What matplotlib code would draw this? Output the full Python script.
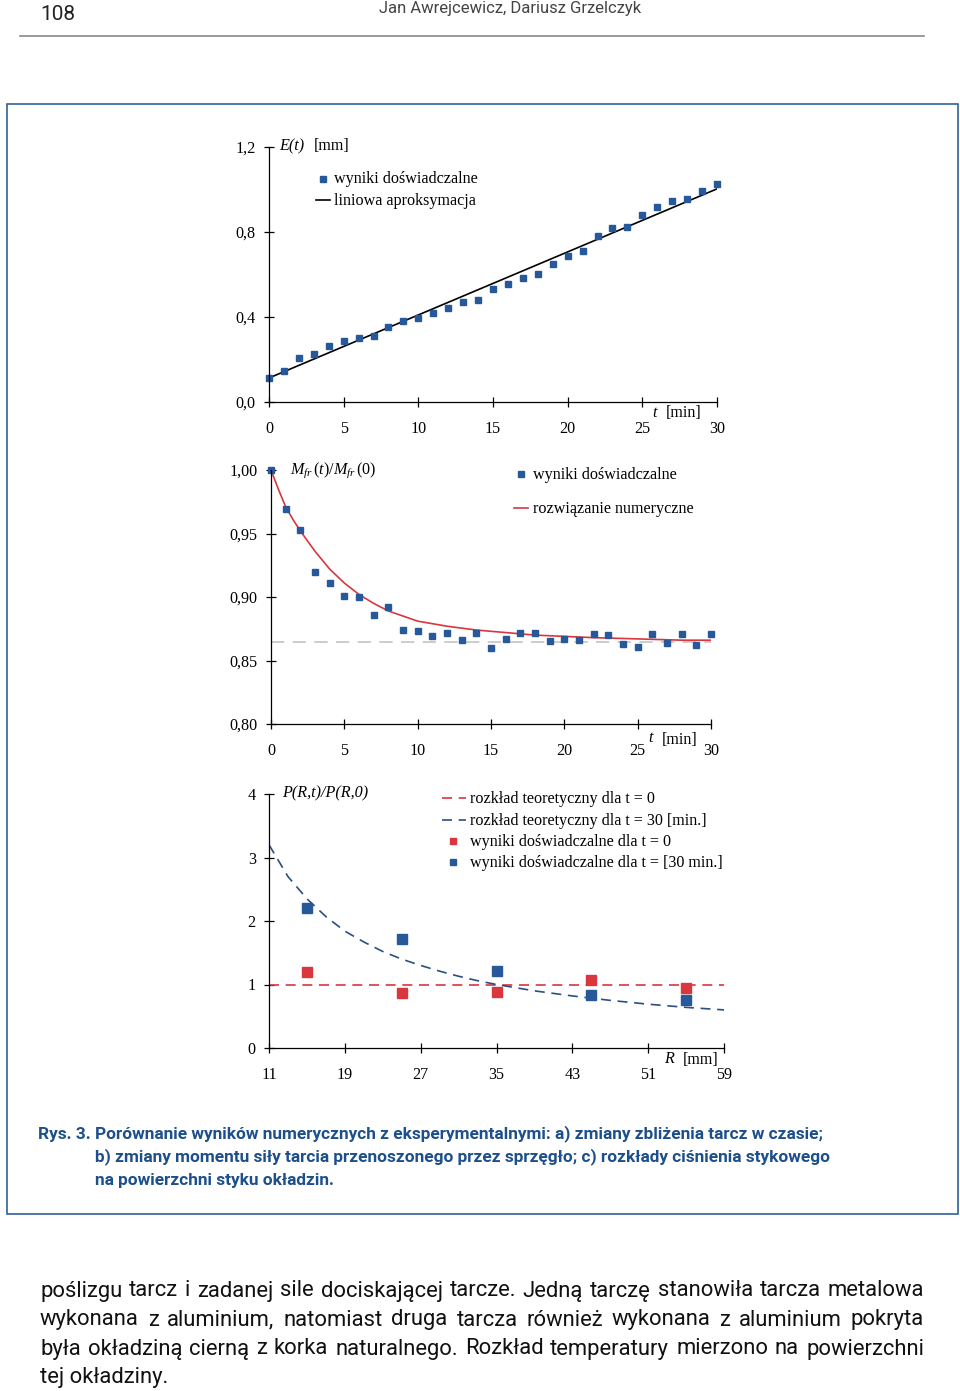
import numpy as np
import matplotlib
matplotlib.use("Agg")
import matplotlib.pyplot as plt
from matplotlib.lines import Line2D
from matplotlib.patches import Rectangle

# ---- data: a) approach of the discs E(t)
t_a = list(range(31))
e_exp = [0.113, 0.146, 0.208, 0.228, 0.263, 0.288, 0.299, 0.310, 0.353, 0.381,
         0.394, 0.417, 0.444, 0.471, 0.480, 0.534, 0.557, 0.583, 0.602, 0.650,
         0.685, 0.712, 0.781, 0.817, 0.825, 0.882, 0.917, 0.945, 0.953, 0.994,
         1.024]
fit_t = [0, 30]
fit_e = [0.113, 1.003]
a_yticks = [0.0, 0.4, 0.8, 1.2]
a_ylabels = ["0,0", "0,4", "0,8", "1,2"]
a_xticks = [0, 5, 10, 15, 20, 25, 30]

# ---- data: b) friction moment ratio
t_b = list(range(31))
m_exp = [1.000, 0.969, 0.953, 0.920, 0.911, 0.901, 0.900, 0.886, 0.892, 0.874,
         0.873, 0.869, 0.872, 0.866, 0.872, 0.860, 0.867, 0.872, 0.872, 0.865,
         0.867, 0.866, 0.871, 0.870, 0.863, 0.861, 0.871, 0.864, 0.871, 0.862,
         0.871]
num_t = [0, 0.5, 1, 1.5, 2, 3, 4, 5, 6, 7, 8, 9, 10, 12, 14, 16, 18, 20, 22, 25, 28, 30]
num_m = [1.000, 0.985, 0.971, 0.961, 0.952, 0.936, 0.922, 0.911, 0.902, 0.895,
         0.889, 0.885, 0.881, 0.877, 0.874, 0.872, 0.870, 0.869, 0.868, 0.867,
         0.866, 0.866]
m_asym = 0.8645
b_yticks = [0.80, 0.85, 0.90, 0.95, 1.00]
b_ylabels = ["0,80", "0,85", "0,90", "0,95", "1,00"]
b_xticks = [0, 5, 10, 15, 20, 25, 30]

# ---- data: c) contact pressure distribution
R_exp = [15, 25, 35, 45, 55]
p0_exp = [1.20, 0.87, 0.88, 1.07, 0.94]
p30_exp = [2.21, 1.71, 1.22, 0.84, 0.75]
R_theo = [11, 13, 15, 17, 19, 21, 23, 25, 27, 29, 31, 33, 35, 39, 43, 47, 51, 55, 59]
p30_theo = [3.20, 2.70, 2.35, 2.07, 1.84, 1.67, 1.52, 1.40, 1.30, 1.21, 1.13, 1.06,
            1.00, 0.90, 0.82, 0.75, 0.69, 0.64, 0.60]
p0_theo = [1.0, 1.0]
R_line = [11, 59]
c_xticks = [11, 19, 27, 35, 43, 51, 59]
c_yticks = [0, 1, 2, 3, 4]

caption = ["Porównanie wyników numerycznych z eksperymentalnymi: a) zmiany zbliżenia tarcz w czasie;",
           "b) zmiany momentu siły tarcia przenoszonego przez sprzęgło; c) rozkłady ciśnienia stykowego",
           "na powierzchni styku okładzin."]
body = ["poślizgu tarcz i zadanej sile dociskającej tarcze. Jedną tarczę stanowiła tarcza metalowa",
        "wykonana z aluminium, natomiast druga tarcza również wykonana z aluminium pokryta",
        "była okładziną cierną z korka naturalnego. Rozkład temperatury mierzono na powierzchni",
        "tej okładziny."]

plt.rcParams['font.family'] = ['Liberation Serif', 'DejaVu Serif']
plt.rcParams['mathtext.fontset'] = 'custom'
plt.rcParams['mathtext.rm'] = 'Liberation Serif'
plt.rcParams['mathtext.it'] = 'Liberation Serif:italic'

W, H = 960, 1391
fig = plt.figure(figsize=(W / 100, H / 100), dpi=100)

BLUE = '#27589a'
RED = '#d9363e'
CAP = '#1d4f8c'
FS = 11.6


def px(x, y):
    return x / W, 1 - y / H


def make_axes(l, r, t, b, xlim, ylim):
    ax = fig.add_axes([l / W, 1 - b / H, (r - l) / W, (b - t) / H])
    ax.set_xlim(xlim)
    ax.set_ylim(ylim)
    ax.patch.set_alpha(0)
    ax.spines['top'].set_visible(False)
    ax.spines['right'].set_visible(False)
    for s in ['left', 'bottom']:
        ax.spines[s].set_linewidth(0.9)
    ax.tick_params(direction='inout', length=7, width=0.9, labelsize=FS)
    ax.tick_params(axis='x', pad=10)
    ax.tick_params(axis='y', pad=6)
    return ax


def sq(x, y, color, ms):
    fig.add_artist(Line2D([x / W], [1 - y / H], marker='s', ms=ms, color=color,
                          linestyle='none', transform=fig.transFigure))


def seg(x0, x1, y, color, **kw):
    fig.add_artist(Line2D([x0 / W, x1 / W], [1 - y / H, 1 - y / H], color=color,
                          transform=fig.transFigure, **kw))


def label(x, y, s, **kw):
    fig.text(*px(x, y), s, fontsize=FS, va='center', ha='left', **kw)


# ---- page header
fig.text(*px(40, 15), "108", fontsize=15, family='Roboto', va='center', color='#222222')
fig.text(*px(510, 9), "Jan Awrejcewicz, Dariusz Grzelczyk", fontsize=12, family='Roboto',
         va='center', ha='center', color='#444444')
seg(20, 924, 36, '#8a8a8a', lw=1.2)

# frame around the figure
fig.add_artist(Rectangle(px(7, 1214), 951 / W, 1110 / H, transform=fig.transFigure,
                         fill=False, edgecolor='#2f6198', lw=1.2))

# ---- a)
ax = make_axes(269, 717, 147, 402, (0, 30), (0, 1.2))
ax.plot(fit_t, fit_e, color='black', lw=1.2)
ax.plot(t_a, e_exp, 's', color=BLUE, ms=4, clip_on=False)
ax.set_xticks(a_xticks)
ax.set_yticks(a_yticks)
ax.set_yticklabels(a_ylabels)
label(279, 146, "E(t)", style='italic')
label(314, 146, "[mm]")
label(652, 413, "t", style='italic')
label(666, 413, "[min]")
sq(323, 179, BLUE, 4)
label(334, 179, "wyniki doświadczalne")
seg(316, 330, 200, 'black', lw=1.2)
label(334, 201, "liniowa aproksymacja")

# ---- b)
ax = make_axes(271, 711, 470, 724, (0, 30), (0.80, 1.00))
ax.plot([0, 30], [m_asym, m_asym], color='#c4c4c4', lw=1.2, dashes=(8, 5))
ax.plot(num_t, num_m, color=RED, lw=1.2)
ax.plot(t_b, m_exp, 's', color=BLUE, ms=4.5, clip_on=False)
ax.set_xticks(b_xticks)
ax.set_yticks(b_yticks)
ax.set_yticklabels(b_ylabels)
label(290, 470, r"$\mathit{M}_{\mathit{fr}}\,\mathit{(t)/M}_{\mathit{fr}}\,\mathit{(0)}$")
label(648, 738, "t", style='italic')
label(662, 740, "[min]")
sq(521, 474, BLUE, 4)
label(533, 475, "wyniki doświadczalne")
seg(514, 528, 508, RED, lw=1.2)
label(533, 509, "rozwiązanie numeryczne")

# ---- c)
ax = make_axes(269, 724, 794, 1048, (11, 59), (0, 4))
ax.plot(R_line, p0_theo, color=RED, lw=1.2, dashes=(6, 4))
ax.plot(R_theo, p30_theo, color='#2b4f80', lw=1.2, dashes=(6, 4))
ax.plot(R_exp, p0_exp, 's', color=RED, ms=6.5, clip_on=False)
ax.plot(R_exp, p30_exp, 's', color=BLUE, ms=6.5, clip_on=False)
ax.set_xticks(c_xticks)
ax.set_yticks(c_yticks)
label(282, 793, "P(R,t)/P(R,0)", style='italic')
label(664, 1059, "R", style='italic')
label(683, 1060, "[mm]")
seg(442, 466, 798, RED, lw=1.2, dashes=(6, 4))
label(470, 799, "rozkład teoretyczny dla t = 0")
seg(442, 466, 820, '#2b4f80', lw=1.2, dashes=(6, 4))
label(470, 821, "rozkład teoretyczny dla t = 30 [min.]")
sq(453, 841, RED, 5)
label(470, 842, "wyniki doświadczalne dla t = 0")
sq(453, 862, BLUE, 5)
label(470, 863, "wyniki doświadczalne dla t = [30 min.]")

# ---- caption
CFS = 12.4
fig.text(*px(38, 1134), "Rys. 3.", fontsize=CFS, family='Roboto', weight='bold',
         color=CAP, va='center')
for i, line in enumerate(caption):
    fig.text(*px(95, 1134 + 23 * i), line, fontsize=CFS, family='Roboto', weight='bold',
             color=CAP, va='center')

# ---- body text, justified
renderer = fig.canvas.get_renderer()
x0, x1 = 40, 924
BFS = 15.8
for i, line in enumerate(body):
    y = 1291 + 29 * i
    if i == len(body) - 1:
        fig.text(*px(x0, y), line, fontsize=BFS, family='Roboto', va='center', color='#111111')
        continue
    words = line.split()
    texts = [fig.text(0, 1 - y / H, w, fontsize=BFS, family='Roboto', va='center',
                      color='#111111') for w in words]
    widths = [t.get_window_extent(renderer).width for t in texts]
    gap = (x1 - x0 - sum(widths)) / (len(words) - 1)
    x = x0
    for t, w in zip(texts, widths):
        t.set_x(x / W)
        x += w + gap

fig.savefig("out.png", dpi=100)
